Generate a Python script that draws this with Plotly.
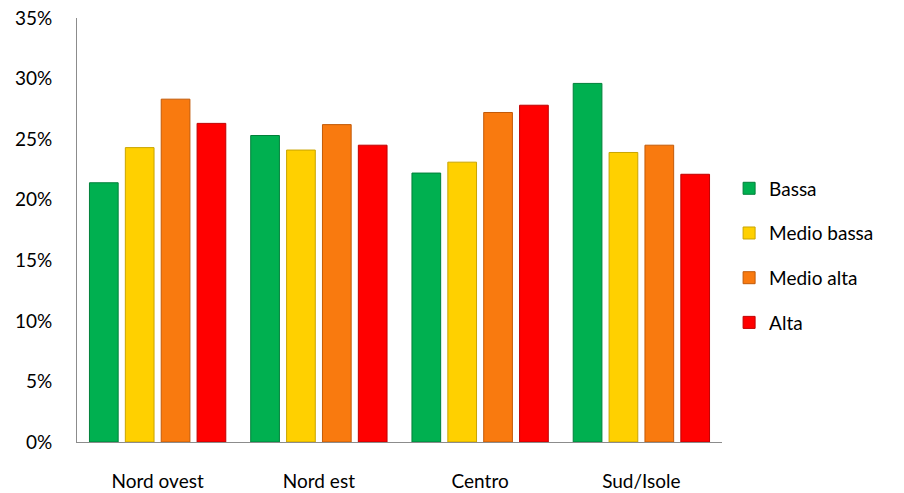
import plotly.graph_objects as go

categories = ["Nord ovest", "Nord est", "Centro", "Sud/Isole"]
series_names = ["Bassa", "Medio bassa", "Medio alta", "Alta"]
bassa = [21.4, 25.3, 22.2, 29.6]
medio_bassa = [24.3, 24.1, 23.1, 23.9]
medio_alta = [28.3, 26.2, 27.2, 24.5]
alta = [26.3, 24.5, 27.8, 22.1]
y_tickvals = [0, 5, 10, 15, 20, 25, 30, 35]
y_ticktext = ["0%", "5%", "10%", "15%", "20%", "25%", "30%", "35%"]

colors = ["#00B050", "#FFD000", "#F97A0F", "#FF0000"]
edge = ["#00803A", "#C9A400", "#C25A08", "#C00000"]

fig = go.Figure()
for name, vals, c, e in zip(series_names, [bassa, medio_bassa, medio_alta, alta], colors, edge):
    fig.add_trace(go.Bar(
        x=categories, y=vals, name=name, legendgroup=name,
        marker=dict(color=c, line=dict(color=e, width=1)),
    ))

fig.update_layout(
    width=904, height=493,
    margin=dict(l=77, r=182, t=18, b=51),
    paper_bgcolor="white", plot_bgcolor="white",
    barmode="group", bargap=0.11, bargroupgap=0.2,
    font=dict(family="Lato, Open Sans, sans-serif", size=19, color="#000000"),
    showlegend=True,
    legend=dict(x=1.011, y=0.44, xanchor="left", yanchor="middle",
                traceorder="grouped", tracegroupgap=17,
                font=dict(size=19), itemwidth=30),
    xaxis=dict(showline=True, linecolor="#8C8C8C", linewidth=1, ticks="",
               ticklabelstandoff=22, showgrid=False, tickfont=dict(size=19),
               automargin=False),
    yaxis=dict(range=[0, 35], tickvals=y_tickvals, ticktext=y_ticktext,
               showline=True, linecolor="#8C8C8C", linewidth=1, ticks="",
               showgrid=False, zeroline=False, ticklabelstandoff=20,
               ticklabeloverflow="allow",
               tickfont=dict(size=19), automargin=False),
)

fig.write_html("out.html", config={"displayModeBar": False},
               post_script="document.body.style.margin='0';")
